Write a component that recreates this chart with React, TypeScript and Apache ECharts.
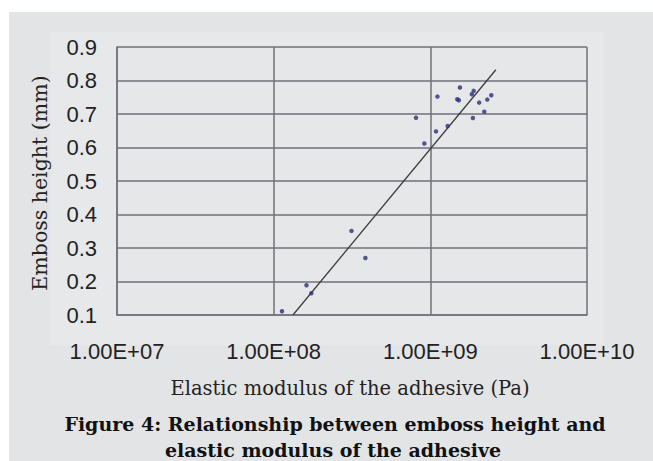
import React, { useEffect, useRef } from "react";
import * as echarts from "echarts";

const modulusPa: number[] = [
  1.13e8, 1.62e8, 1.74e8, 3.14e8, 3.85e8, 8.1e8, 9.16e8, 1.087e9, 1.11e9, 1.29e9,
  1.545e9, 1.486e9, 1.52e9, 1.89e9, 1.84e9, 1.87e9, 2.05e9, 2.21e9, 2.31e9, 2.45e9,
];
const embossHeight: number[] = [
  0.111, 0.189, 0.165, 0.351, 0.27, 0.689, 0.612, 0.648, 0.752, 0.664,
  0.779, 0.744, 0.741, 0.769, 0.759, 0.688, 0.734, 0.707, 0.743, 0.756,
];
const trendX: number[] = [1.327e8, 2.62e9];
const trendY: number[] = [0.1, 0.832];
const xTickLabels: string[] = ["1.00E+07", "1.00E+08", "1.00E+09", "1.00E+10"];
const xAxisTitle = "Elastic modulus of the adhesive (Pa)";
const yAxisTitle = "Emboss height (mm)";
const captionLines: string[] = [
  "Figure 4: Relationship between emboss height and",
  "elastic modulus of the adhesive",
];

export default function App() {
  const ref = useRef<HTMLDivElement>(null);
  useEffect(() => {
    if (!ref.current) return;
    const chart = echarts.init(ref.current, null, { renderer: "svg" });
    const serif = "'DejaVu Serif', 'Liberation Serif', serif";
    const sans = "'Liberation Sans', Arial, sans-serif";
    chart.setOption({
      animation: false,
      backgroundColor: "#ffffff",
      grid: { left: 117, top: 47, right: 66, bottom: 146 },
      xAxis: {
        type: "log",
        logBase: 10,
        min: 1e7,
        max: 1e10,
        splitNumber: 3,
        axisLine: { show: true, lineStyle: { color: "#72727e", width: 1.5 } },
        axisTick: { show: false },
        splitLine: { show: true, lineStyle: { color: "#70707a", width: 1.5 } },
        axisLabel: {
          color: "#222",
          fontFamily: sans,
          fontSize: 22,
          margin: 25,
          formatter: (v: number) => xTickLabels[Math.round(Math.log10(v)) - 7] ?? "",
        },
      },
      yAxis: {
        type: "value",
        min: 0.1,
        max: 0.9,
        interval: 0.1,
        axisLine: { show: true, lineStyle: { color: "#72727e", width: 1.5 } },
        axisTick: { show: false },
        splitLine: { show: true, lineStyle: { color: "#70707a", width: 1.5 } },
        axisLabel: {
          color: "#222",
          fontFamily: sans,
          fontSize: 22,
          margin: 20,
          formatter: (v: number) => v.toFixed(1),
        },
      },
      graphic: [
        {
          type: "rect",
          z: -10,
          silent: true,
          shape: { x: 9, y: 12, width: 653 - 9, height: 461 - 12 },
          style: { fill: "#e2e4e6" },
        },
        {
          type: "rect",
          z: -9,
          silent: true,
          shape: { x: 50, y: 32, width: 553, height: 313 },
          style: { fill: "#e6e8e9" },
        },
        {
          type: "rect",
          z: -8,
          silent: true,
          shape: { x: 117, y: 47, width: 470, height: 268 },
          style: { fill: "#e6e7e9" },
        },
        {
          type: "text",
          x: 350,
          y: 388,
          style: {
            text: xAxisTitle,
            fontFamily: serif,
            fontSize: 19.5,
            fill: "#222",
            align: "center",
            verticalAlign: "middle",
          },
        },
        {
          type: "text",
          x: 40,
          y: 183,
          rotation: Math.PI / 2,
          style: {
            text: yAxisTitle,
            fontFamily: serif,
            fontSize: 20.5,
            fill: "#222",
            align: "center",
            verticalAlign: "middle",
          },
        },
        {
          type: "text",
          x: 335,
          y: 424,
          style: {
            text: captionLines[0],
            fontFamily: serif,
            fontSize: 19,
            fontWeight: "bold",
            fill: "#111",
            align: "center",
            verticalAlign: "middle",
          },
        },
        {
          type: "text",
          x: 333,
          y: 450,
          style: {
            text: captionLines[1],
            fontFamily: serif,
            fontSize: 19,
            fontWeight: "bold",
            fill: "#111",
            align: "center",
            verticalAlign: "middle",
          },
        },
      ],
      series: [
        {
          type: "line",
          data: trendX.map((x, i) => [x, trendY[i]]),
          showSymbol: false,
          lineStyle: { color: "#3c3c3c", width: 1.3 },
          z: 3,
        },
        {
          type: "scatter",
          data: modulusPa.map((x, i) => [x, embossHeight[i]]),
          symbol: "circle",
          symbolSize: 4.5,
          itemStyle: { color: "#2e2e7a" },
          z: 4,
        },
      ],
    });
    return () => chart.dispose();
  }, []);
  return (
    <div
      ref={ref}
      style={{ position: "fixed", left: 0, top: 0, width: 653, height: 461 }}
    />
  );
}
